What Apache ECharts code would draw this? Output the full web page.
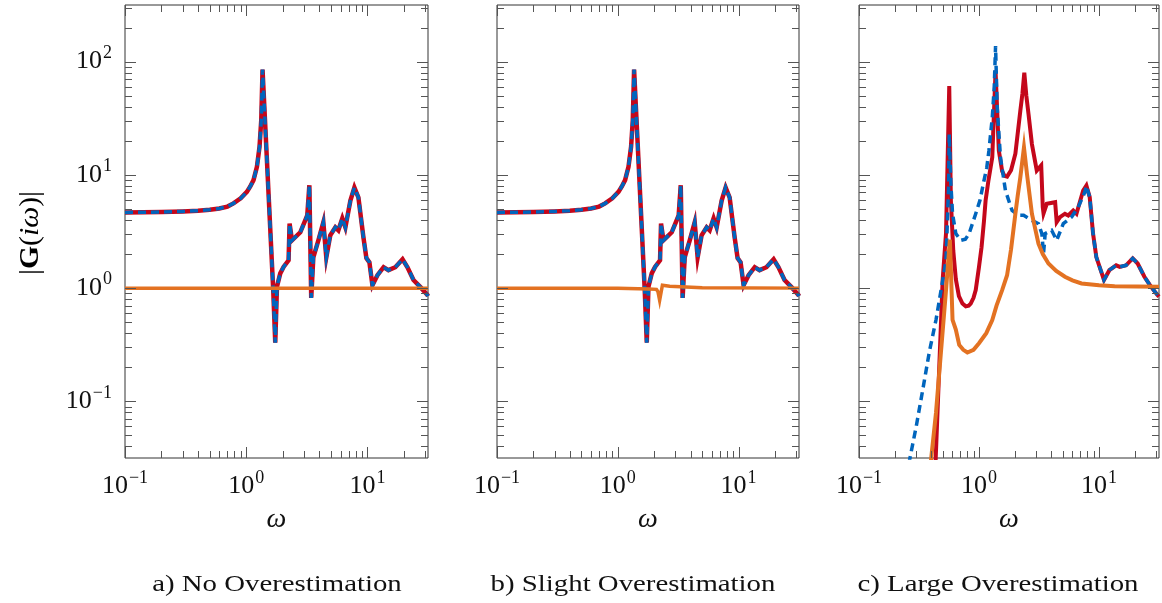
<!DOCTYPE html>
<html><head><meta charset="utf-8">
<script src="https://cdn.jsdelivr.net/npm/echarts@6/dist/echarts.min.js"></script>
<style>html,body{margin:0;padding:0;background:#fff}#c{width:1162px;height:603px}</style>
</head><body><div id="c"></div>
<script>
// ---- tick labels / captions ----
const xTickExps = [-1, 0, 1];
const yTickExps = [-1, 0, 1, 2];
const captions = ['a) No Overestimation', 'b) Slight Overestimation', 'c) Large Overestimation'];
const xLabel = 'ω';

// ---- true system (panels a and b: red solid + blue dashed estimate coincide) ----
const wTrue = [0.1, 0.2, 0.3, 0.4, 0.5, 0.6, 0.7, 0.785, 0.9, 1.013, 1.08, 1.149, 1.226, 1.288, 1.331, 1.364, 1.671, 1.737, 1.794, 1.910, 2.034, 2.237, 2.28, 2.386, 2.795, 3.19, 3.32, 3.44, 3.58, 3.94, 4.33, 4.58, 4.94, 5.44, 5.76, 6.21, 6.58, 7.24, 7.81, 8.43, 9.27, 9.81, 10.39, 11.0, 12.1, 13.6, 14.9, 17.0, 19.5, 21.4, 24.0, 27.4, 31.3, 31.62];
const gTrue = [4.66, 4.7, 4.76, 4.83, 4.93, 5.05, 5.25, 5.6, 6.2, 7.08, 7.9, 8.99, 11.8, 17.7, 30.4, 85, 0.96, 0.33, 1.03, 1.35, 1.54, 1.76, 3.71, 2.64, 3.11, 4.39, 8.1, 0.82, 1.87, 2.64, 3.81, 1.87, 2.93, 3.44, 3.24, 4.13, 3.44, 5.94, 7.73, 6.31, 2.81, 1.84, 1.69, 1.06, 1.30, 1.53, 1.44, 1.53, 1.80, 1.53, 1.18, 1.02, 0.868, 0.85];

// ---- orange curves ----
const wOrA = [0.1, 31.62];
const gOrA = [1.0, 1.0];
const wOrB = [0.1, 1.0, 1.8, 2.09, 2.15, 2.22, 2.34, 2.69, 5.0, 31.62];
const gOrB = [1.0, 0.995, 0.98, 0.975, 0.93, 0.78, 1.06, 1.04, 1.01, 1.0];

// ---- panel c ----
const wRedC = [0.43, 0.498, 0.531, 0.565, 0.583, 0.61, 0.641, 0.68, 0.728, 0.776, 0.82, 0.853, 0.9, 0.939, 1.0, 1.05, 1.1, 1.135, 1.2, 1.29, 1.374, 1.463, 1.559, 1.63, 1.714, 1.85, 2.01, 2.21, 2.3, 2.385, 2.48, 2.59, 2.76, 3.03, 3.30, 3.40, 3.45, 3.67, 4.31, 4.44, 4.73, 5.20, 5.54, 6.10, 6.49, 7.38, 7.85, 8.37, 8.92, 9.5, 10.45, 11.0, 12.2, 13.9, 14.9, 16.8, 19.1, 21.0, 23.9, 27.1, 30.7, 31.62];
const gRedC = [0.022, 1.18, 3.05, 61, 5.94, 2.16, 1.2, 0.85, 0.73, 0.69, 0.7, 0.73, 0.82, 0.96, 1.54, 2.3, 3.9, 5.94, 9.0, 14.3, 83, 16.4, 10.8, 9.8, 9.66, 11.0, 15.4, 36.8, 52, 79.9, 50, 34, 18.7, 10.9, 12.1, 5.19, 4.57, 5.56, 5.74, 3.83, 4.24, 4.54, 4.38, 4.85, 4.54, 7.28, 8.05, 6.35, 3.03, 1.88, 1.39, 1.18, 1.44, 1.59, 1.54, 1.59, 1.83, 1.65, 1.26, 1.03, 0.87, 0.84];
const wBlueC = [0.26, 0.30, 0.34, 0.386, 0.438, 0.483, 0.531, 0.558, 0.565, 0.583, 0.602, 0.641, 0.706, 0.77, 0.827, 0.939, 1.02, 1.10, 1.16, 1.21, 1.29, 1.34, 1.374, 1.418, 1.51, 1.66, 1.886, 2.14, 2.355, 2.76, 3.13, 3.34, 3.45, 3.56, 4.03, 4.44, 5.04, 5.91, 6.71, 7.6, 7.85, 8.37, 8.92, 9.5, 10.45, 11.0, 12.2, 13.9, 14.9, 16.8, 19.1, 21.0, 23.9, 27.1, 30.7, 31.62];
const gBlueC = [0.028, 0.0603, 0.127, 0.275, 0.523, 0.96, 1.76, 7.78, 22.9, 8.3, 4.54, 3.03, 2.64, 2.7, 3.03, 4.54, 6.0, 8.9, 11.5, 16.4, 32.1, 60, 137, 39.3, 14.3, 7.28, 4.85, 4.39, 4.39, 3.96, 3.71, 3.03, 2.02, 3.03, 3.24, 2.64, 3.71, 4.24, 5.19, 7.0, 8.0, 6.35, 3.03, 1.88, 1.39, 1.18, 1.44, 1.59, 1.54, 1.59, 1.83, 1.65, 1.26, 1.03, 0.87, 0.84];
const wOrC = [0.395, 0.438, 0.531, 0.572, 0.602, 0.641, 0.684, 0.74, 0.80, 0.9, 1.0, 1.15, 1.29, 1.4, 1.559, 1.714, 1.85, 2.01, 2.1, 2.21, 2.37, 2.51, 2.76, 3.13, 3.4, 3.79, 4.4, 5.20, 6.0, 7.15, 10.0, 13.5, 31.62];
const gOrC = [0.028, 0.079, 0.96, 2.68, 0.523, 0.43, 0.315, 0.285, 0.27, 0.285, 0.326, 0.40, 0.523, 0.7, 0.96, 1.3, 2.2, 4.54, 6.5, 9.5, 17.5, 10.2, 4.54, 2.47, 2.0, 1.65, 1.42, 1.26, 1.17, 1.1, 1.06, 1.04, 1.03];

// ---- styling ----
const RED = '#C4071B', BLUE = '#0065BD', ORANGE = '#E37222';
const FONT = '"Liberation Serif", serif';
const TXT = '#111';
const FRAME = '#333';
const X_MIN = 0.1, X_MAX = Math.pow(10, 1.5);
const Y_MIN = Math.pow(10, -1.5), Y_MAX = Math.pow(10, 2.5);

const zip = (w, g) => w.map((v, i) => [v, g[i]]);

const grids = [
  {left: 125, top: 5, width: 303, height: 453},
  {left: 497, top: 5, width: 302, height: 453},
  {left: 859, top: 5, width: 302, height: 453}
];

function supLabel(exps) {
  return function (v) {
    const l = Math.log10(v);
    const e = Math.round(l);
    if (Math.abs(l - e) > 1e-6 || exps.indexOf(e) < 0) return '';
    const s = e < 0 ? '\u2212' + (-e) : String(e);
    return '{b|10}{s|' + s + '}';
  };
}
const labelRich = {
  b: {fontFamily: FONT, fontSize: 26, color: TXT},
  s: {fontFamily: FONT, fontSize: 18, color: TXT, padding: [0, 0, 17, 1]}
};

// tick marks (major + minor) drawn through the axes' scales
const MAJ = 11, MIN = 7;
const tickData = [];
for (let e = -2; e <= 2; e++) {
  for (let k = 1; k <= 9; k++) {
    const v = k * Math.pow(10, e);
    if (v >= X_MIN * 0.999 && v <= X_MAX) tickData.push([v, 1, k === 1 ? MAJ : MIN, 0]);
    if (v >= Y_MIN && v <= Y_MAX) tickData.push([1, v, k === 1 ? MAJ : MIN, 1]);
  }
}
function renderTicks(params, api) {
  const cs = params.coordSys;
  const len = api.value(2);
  const side = api.value(3);
  const style = {stroke: '#555', lineWidth: 1};
  const ch = [];
  if (side === 0) {
    const px = Math.round(api.coord([api.value(0), 1])[0]) + 0.5;
    ch.push({type: 'line', shape: {x1: px, y1: cs.y + cs.height, x2: px, y2: cs.y + cs.height - len}, style});
    ch.push({type: 'line', shape: {x1: px, y1: cs.y, x2: px, y2: cs.y + len}, style});
  } else {
    const py = Math.round(api.coord([1, api.value(1)])[1]) + 0.5;
    ch.push({type: 'line', shape: {x1: cs.x, y1: py, x2: cs.x + len, y2: py}, style});
    ch.push({type: 'line', shape: {x1: cs.x + cs.width, y1: py, x2: cs.x + cs.width - len, y2: py}, style});
  }
  return {type: 'group', children: ch};
}

const xAxes = grids.map((g, i) => ({
  type: 'log', logBase: 10, gridIndex: i, min: X_MIN, max: X_MAX,
  axisLine: {show: false}, axisTick: {show: false}, splitLine: {show: false}, minorTick: {show: false},
  axisLabel: {formatter: supLabel(xTickExps), rich: labelRich, margin: 11, showMinLabel: true, showMaxLabel: true, hideOverlap: false},
  name: xLabel, nameLocation: 'middle', nameGap: 48,
  nameTextStyle: {fontFamily: FONT, fontStyle: 'italic', fontSize: 28, color: TXT}
}));
const yAxes = grids.map((g, i) => ({
  type: 'log', logBase: 10, gridIndex: i, min: Y_MIN, max: Y_MAX,
  axisLine: {show: false}, axisTick: {show: false}, splitLine: {show: false}, minorTick: {show: false},
  axisLabel: {show: i === 0, formatter: supLabel(yTickExps), rich: labelRich, margin: 13, hideOverlap: false}
}));

function line(i, data, color, width, dashed, z) {
  return {
    type: 'line', xAxisIndex: i, yAxisIndex: i, data, showSymbol: false, symbol: 'none',
    lineStyle: {color, width, type: dashed ? [8, 5] : 'solid', cap: 'butt', join: 'miter'},
    z, silent: true, clip: true
  };
}

const series = [
  line(0, zip(wTrue, gTrue), RED, 4.5, false, 2),
  line(0, zip(wTrue, gTrue), BLUE, 3.5, true, 3),
  line(0, zip(wOrA, gOrA), ORANGE, 3.5, false, 4),
  line(1, zip(wTrue, gTrue), RED, 4.5, false, 2),
  line(1, zip(wTrue, gTrue), BLUE, 3.5, true, 3),
  line(1, zip(wOrB, gOrB), ORANGE, 3.5, false, 4),
  line(2, zip(wRedC, gRedC), RED, 4, false, 2),
  line(2, zip(wBlueC, gBlueC), BLUE, 3.5, true, 3),
  line(2, zip(wOrC, gOrC), ORANGE, 4, false, 4)
];
grids.forEach((g, i) => series.push({
  type: 'custom', xAxisIndex: i, yAxisIndex: i, data: tickData, renderItem: renderTicks, silent: true, z: 5
}));

const graphic = [
  {
    type: 'text', x: 31, y: 233, rotation: Math.PI / 2, scaleX: 1.1, silent: true,
    style: {
      text: '{n||}{g|G}{n|(}{i|iω}{n|)|}',
      align: 'center', verticalAlign: 'middle',
      rich: {
        n: {fontFamily: FONT, fontSize: 27, color: TXT},
        g: {fontFamily: FONT, fontSize: 27, fontWeight: 'bold', color: TXT},
        i: {fontFamily: FONT, fontSize: 27, fontStyle: 'italic', color: TXT}
      }
    }
  }
];
const capX = [277, 633, 998];
captions.forEach((t, i) => graphic.push({
  type: 'text', x: capX[i], y: 585, scaleX: 1.2, silent: true,
  style: {text: t, font: '24px ' + FONT, fill: TXT, align: 'center', verticalAlign: 'middle'}
}));

const chart = echarts.init(document.getElementById('c'), null, {renderer: 'canvas'});
chart.setOption({
  animation: false,
  backgroundColor: '#fff',
  grid: grids.map(g => Object.assign({show: true, borderColor: FRAME, borderWidth: 1, backgroundColor: 'transparent', containLabel: false}, g)),
  xAxis: xAxes,
  yAxis: yAxes,
  series,
  graphic
});
</script>
</body></html>
